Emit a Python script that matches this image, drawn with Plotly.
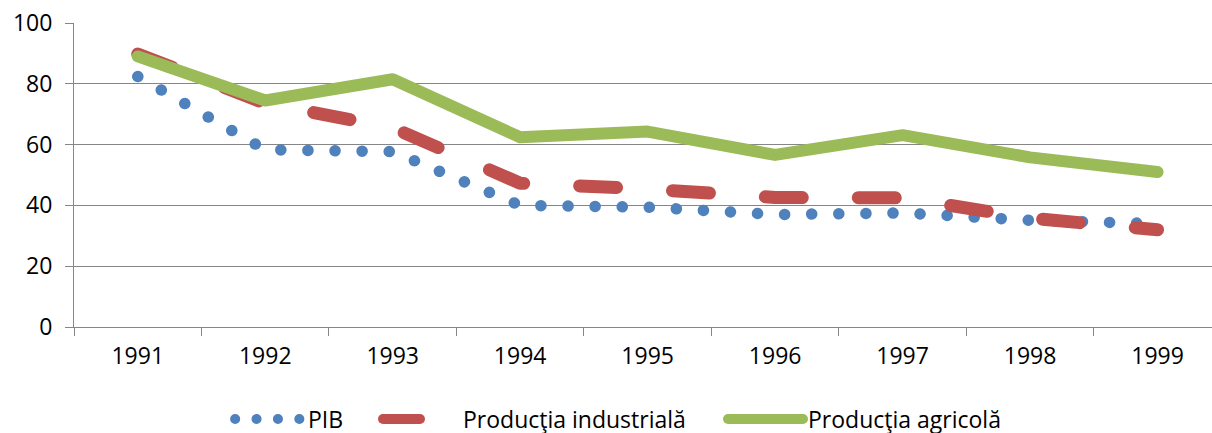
import plotly.graph_objects as go

years = ["1991", "1992", "1993", "1994", "1995", "1996", "1997", "1998", "1999"]
pib = [82.4, 58.3, 57.7, 40.0, 39.4, 37.0, 37.5, 35.1, 34.0]
industriala = [89.8, 73.6, 65.5, 47.3, 45.4, 42.6, 42.5, 35.8, 32.0]
agricola = [89.0, 74.5, 81.5, 62.4, 64.3, 56.6, 63.1, 55.8, 51.0]

names = ["PIB", "Producţia industrială", "Producţia agricolă"]
colors = ["#4F81BD", "#C0504D", "#9BBB59"]

FONT = "Open Sans"
GREY = "#868686"

fig = go.Figure()
fig.add_trace(go.Scatter(x=years, y=pib, mode="lines", name=names[0],
                         line=dict(color=colors[0], width=11.5, dash="0.1px,27px"),
                         legend="legend"))
fig.add_trace(go.Scatter(x=years, y=industriala, mode="lines", name=names[1],
                         line=dict(color=colors[1], width=13, dash="37px,56px"),
                         legend="legend2"))
fig.add_trace(go.Scatter(x=years, y=agricola, mode="lines", name=names[2],
                         line=dict(color=colors[2], width=12),
                         legend="legend3"))

leg_common = dict(orientation="h", xref="container", yref="container",
                  yanchor="middle", xanchor="left", bgcolor="rgba(0,0,0,0)",
                  borderwidth=0, itemwidth=75,
                  font=dict(family=FONT, size=23, color="black"))
leg_y = 1 - 419 / 433

fig.update_layout(
    width=1212, height=433,
    margin=dict(l=74, r=0, t=23, b=106),
    paper_bgcolor="white", plot_bgcolor="white",
    font=dict(family=FONT, size=23, color="black"),
    showlegend=True,
    legend=dict(x=223 / 1212, y=leg_y, **leg_common),
    legend2=dict(x=378 / 1212, y=leg_y, **leg_common),
    legend3=dict(x=723 / 1212, y=leg_y, **leg_common),
    xaxis=dict(type="category", range=[-0.5, 8.427], tickson="boundaries",
               ticks="outside", ticklen=8, tickcolor=GREY, tickwidth=1,
               showline=True, linecolor=GREY, linewidth=1, showgrid=False,
               zeroline=False, ticklabelstandoff=8,
               tickfont=dict(family=FONT, size=23, color="black")),
    yaxis=dict(range=[0, 100], dtick=20, ticks="outside", ticklen=8,
               tickcolor=GREY, tickwidth=1, showline=True, linecolor=GREY,
               linewidth=1, showgrid=True, gridcolor=GREY, gridwidth=1,
               zeroline=False, ticklabelstandoff=8,
               tickfont=dict(family=FONT, size=23, color="black")),
)

css = (".scatterlayer .js-line, .legendlines .js-line, .legendlines path "
       "{stroke-linecap: round !important; stroke-linejoin: round !important;} "
       "g.legend .legendlines path {stroke-dasharray: 0.1px 21.3px !important; "
       "stroke-dashoffset: 14.3px !important;} "
       "body {margin: 0; overflow: hidden;}")
post = ("var s=document.createElement('style');s.textContent=" + repr(css) +
        ";document.head.appendChild(s);")

fig.write_html("out.html", post_script=post,
               config={"displayModeBar": False})
